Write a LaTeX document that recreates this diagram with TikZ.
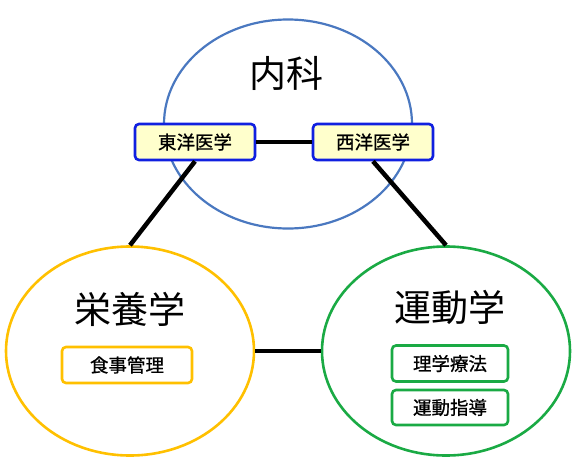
\documentclass[tikz,border=0pt]{standalone}
\usepackage{fontspec}
\usetikzlibrary{shapes.geometric}
\newfontfamily\jp{Noto Sans CJK JP}
\newfontfamily\jpb[FakeBold=0.8]{Noto Sans CJK JP}
\definecolor{cblue}{HTML}{4A78C0}
\definecolor{corange}{HTML}{FFC000}
\definecolor{cgreen}{HTML}{1AAA44}
\definecolor{boxblue}{HTML}{1020E0}
\definecolor{boxfill}{HTML}{FFFFCC}
\tikzset{
  circ/.style={ellipse, draw, line width=2.6pt, minimum width=248pt, minimum height=209pt, inner sep=0pt},
  title/.style={font=\jp\fontsize{37}{40}\selectfont, inner sep=0pt},
  tagbox/.style={draw, rounded corners=4pt, line width=2.6pt, minimum height=36pt, inner sep=0pt, font=\jpb\fontsize{18.5}{20}\selectfont},
  conn/.style={line width=4.5pt, black}
}
\begin{document}
\begin{tikzpicture}[x=1pt,y=-1pt]
\useasboundingbox (0,0) rectangle (575,474);
\node[circ, draw=cblue, line width=2.2pt] (nai) at (288,124) {};
\node[circ, draw=corange] (nut) at (130,351) {};
\node[circ, draw=cgreen] (mov) at (446,351) {};
\node[title] (tnai) at (286,73) {内科};
\node[title] (tnut) at (130,309) {栄養学};
\node[title] (tmov) at (450,307) {運動学};
\draw[conn] (nut.east) -- (mov.west);
\node[tagbox, draw=boxblue, fill=boxfill, minimum width=120pt] (east) at (195,142) {東洋医学};
\node[tagbox, draw=boxblue, fill=boxfill, minimum width=120pt] (west) at (373,142) {西洋医学};
\draw[conn] (east.east) -- (west.west);
\draw[conn] (east.south) -- (nut.north);
\draw[conn] (west.south) -- (mov.north);
\node[tagbox, draw=corange, fill=white, minimum width=130pt] (food) at (127,365) {食事管理};
\node[tagbox, draw=cgreen, fill=white, minimum width=116pt] (pt) at (450,363.5) {理学療法};
\node[tagbox, draw=cgreen, fill=white, minimum width=116pt, minimum height=35pt] (ex) at (450,407.5) {運動指導};
\end{tikzpicture}
\end{document}
